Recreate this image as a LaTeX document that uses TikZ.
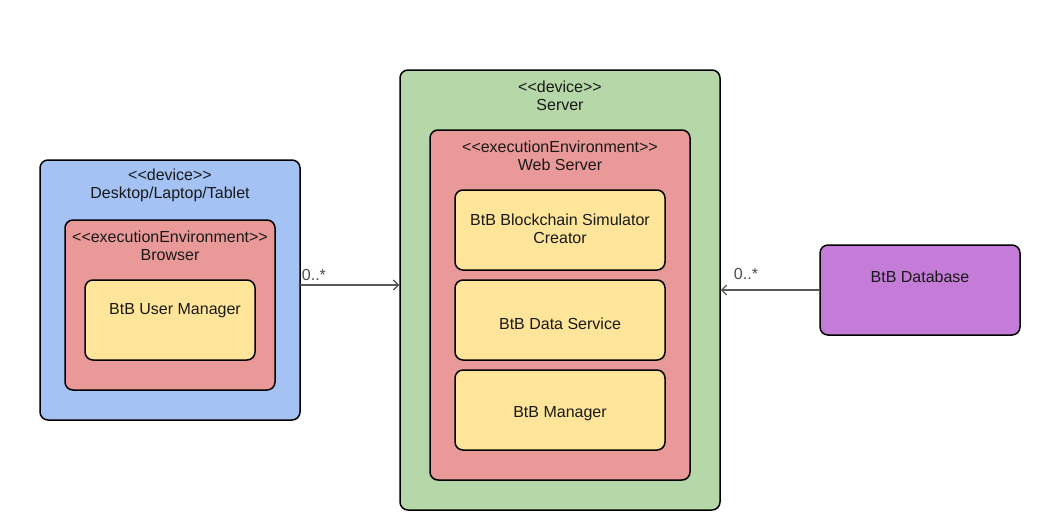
\documentclass[tikz,border=0pt]{standalone}
\usepackage{fontspec}
\setmainfont{Liberation Sans}
\usetikzlibrary{arrows.meta,calc}

\definecolor{devblue}{HTML}{A4C2F4}
\definecolor{envred}{HTML}{EA9999}
\definecolor{compyellow}{HTML}{FFE599}
\definecolor{srvgreen}{HTML}{B6D7A8}
\definecolor{dbpurple}{HTML}{C47CD8}

\tikzset{
	box/.style={draw=black, line width=1.5pt, rounded corners=8pt, inner sep=0pt, align=center},
	ttl/.style={align=center, inner sep=0pt, text=black!90},
	conn/.style={draw=black!65, line width=1.3pt, -{Straight Barb[length=5pt,width=10pt]}},
	mult/.style={inner sep=1pt, fill=white, text=black!70},
}

\begin{document}
\begin{tikzpicture}[x=1pt, y=-1pt, font=\fontsize{16}{18}\selectfont, line join=round, line cap=round]
		\useasboundingbox (0,0) rectangle (1040,530);
		% client device
		\node[box, fill=devblue, minimum width=260, minimum height=260] (desk) at (170,290) {};
		\node[ttl] (desklbl) at (170,185.5) {<{}<device>{}>\\Desktop/Laptop/Tablet};
		\node[box, fill=envred, minimum width=210, minimum height=170] (brw) at (170,305) {};
		\node[ttl] (brwlbl) at (170,245.5) {<{}<executionEnvironment>{}>\\Browser};
		\node[box, fill=compyellow, minimum width=170, minimum height=80] (usrmgr) at (170,320) {};
		\node[ttl] (usrmgrlbl) at (175,311) {BtB User Manager};
		% server device
		\node[box, fill=srvgreen, minimum width=320, minimum height=440] (srv) at (560,290) {};
		\node[ttl] (srvlbl) at (560,95.5) {<{}<device>{}>\\Server};
		\node[box, fill=envred, minimum width=260, minimum height=350] (web) at (560,305) {};
		\node[ttl] (weblbl) at (560,155.5) {<{}<executionEnvironment>{}>\\Web Server};
		\node[box, fill=compyellow, minimum width=210, minimum height=80] (bcsim) at (560,230) {};
		\node[ttl] (bcsimlbl) at (560,229) {BtB Blockchain Simulator\\Creator};
		\node[box, fill=compyellow, minimum width=210, minimum height=80] (datasrv) at (560,320) {};
		\node[ttl] (datasrvlbl) at (560,324) {BtB Data Service};
		\node[box, fill=compyellow, minimum width=210, minimum height=80] (btbmgr) at (560,410) {};
		\node[ttl] (btbmgrlbl) at (560,414) {BtB Manager};
		% database
		\node[box, fill=dbpurple, minimum width=200, minimum height=90] (db) at (920,290) {};
		\node[ttl] (dblbl) at (920,277) {BtB Database};
		% connectors
		\draw[conn] ([yshift=5pt]desk.east) coordinate (a1) -- (a1 -| srv.west);
		\node[mult, anchor=south west] (m1) at ([yshift=3pt]a1) {0..*};
		\draw[conn] (db.west) -- (srv.east);
		\node[mult, anchor=south west] (m2) at ($(srv.east)+(12,-9)$) {0..*};
	\end{tikzpicture}
\end{document}
